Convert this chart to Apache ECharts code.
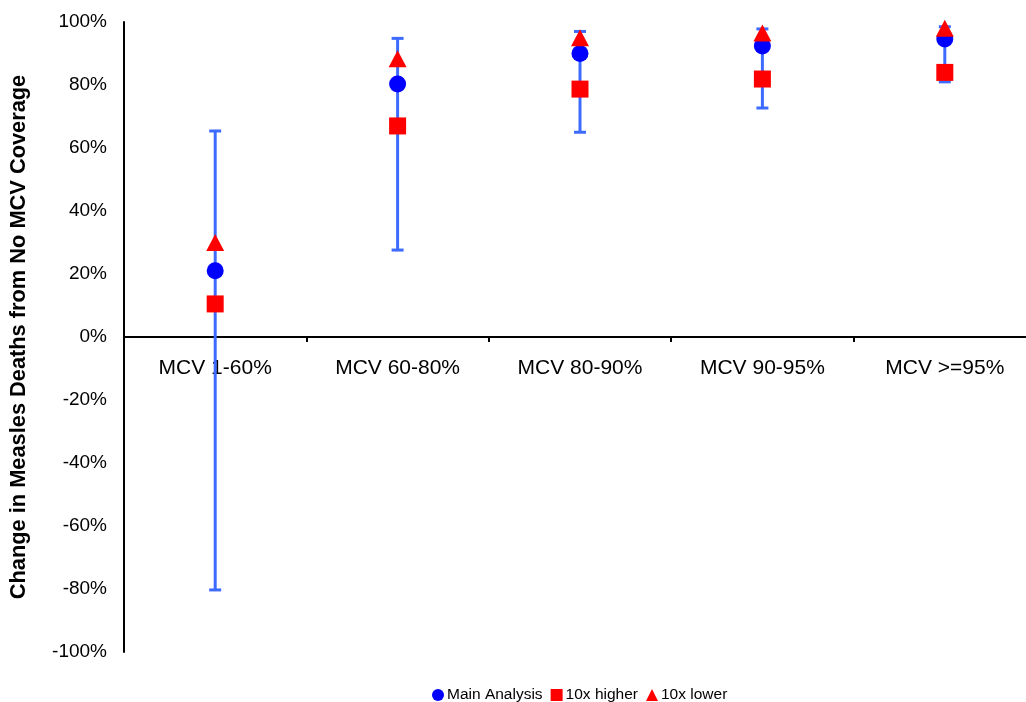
<!DOCTYPE html>
<html>
<head>
<meta charset="utf-8">
<script src="https://cdn.jsdelivr.net/npm/echarts@6/dist/echarts.min.js"></script>
<style>html,body{margin:0;padding:0;background:#fff;overflow:hidden;width:1026px;height:702px;}#c{width:1040px;height:702px;}</style>
</head>
<body>
<div id="c"></div>
<script>
var categories = ['MCV 1-60%', 'MCV 60-80%', 'MCV 80-90%', 'MCV 90-95%', 'MCV >=95%'];
var mainValues = [21, 80.3, 90, 92.4, 94.6];
var higherValues = [10.5, 67, 78.7, 81.9, 84];
var lowerValues = [30, 88.3, 95, 96.5, 98];
var errLow = [-80.3, 27.6, 65, 72.7, 81];
var errHigh = [65.4, 94.8, 97, 97.8, 98.5];
var yTicks = { min: -100, max: 100, interval: 20 };

var chart = echarts.init(document.getElementById('c'));
var errData = categories.map(function (c, i) { return [i, errLow[i], errHigh[i]]; });
var font = 'Liberation Sans, Arial, sans-serif';
var gridH = 630;

chart.setOption({
  animation: false,
  textStyle: { fontFamily: font },
  grid: { left: 123, top: 22, width: 913, height: gridH, containLabel: false },
  legend: {
    data: [
      { name: 'Main Analysis', icon: 'circle' },
      { name: '10x higher', icon: 'rect' },
      { name: '10x lower', icon: 'triangle' }
    ],
    top: 687, left: 432, padding: 0,
    itemWidth: 12, itemHeight: 12, itemGap: 8,
    textStyle: { fontSize: 15.5, color: '#000', fontFamily: font, padding: [0, 0, 0, -2] }
  },
  xAxis: {
    type: 'category',
    data: categories,
    boundaryGap: true,
    position: 'bottom',
    offset: -gridH / 2,
    axisLine: { onZero: false, lineStyle: { color: '#000', width: 2 } },
    axisTick: { show: true, length: 5, inside: false, alignWithLabel: false, lineStyle: { color: '#000', width: 2 } },
    axisLabel: { fontSize: 21, color: '#000', margin: 21, fontFamily: font },
    splitLine: { show: false }
  },
  yAxis: {
    type: 'value',
    min: yTicks.min, max: yTicks.max, interval: yTicks.interval,
    name: 'Change in Measles Deaths from No MCV Coverage',
    nameLocation: 'middle',
    nameGap: 94,
    nameTextStyle: { fontSize: 21.8, fontWeight: 'bold', color: '#000', fontFamily: font },
    axisLine: { show: true, lineStyle: { color: '#000', width: 2 } },
    axisTick: { show: false },
    axisLabel: { fontSize: 19, color: '#000', margin: 17, formatter: '{value}%', fontFamily: font },
    splitLine: { show: false }
  },
  series: [
    {
      type: 'custom',
      name: 'err',
      z: 1,
      data: errData,
      encode: { x: 0, y: [1, 2] },
      renderItem: function (params, api) {
        var x = api.value(0);
        var pLo = api.coord([x, api.value(1)]);
        var pHi = api.coord([x, api.value(2)]);
        var w = 6;
        var st = { stroke: '#3d6bff', lineWidth: 3 };
        return {
          type: 'group',
          children: [
            { type: 'line', shape: { x1: pLo[0], y1: pLo[1], x2: pHi[0], y2: pHi[1] }, style: st },
            { type: 'line', shape: { x1: pLo[0] - w, y1: pLo[1], x2: pLo[0] + w, y2: pLo[1] }, style: st },
            { type: 'line', shape: { x1: pHi[0] - w, y1: pHi[1], x2: pHi[0] + w, y2: pHi[1] }, style: st }
          ]
        };
      }
    },
    {
      type: 'scatter', name: 'Main Analysis', z: 3,
      symbol: 'circle', symbolSize: 17,
      itemStyle: { color: '#0000ff', opacity: 1 },
      data: mainValues
    },
    {
      type: 'scatter', name: '10x higher', z: 3,
      symbol: 'rect', symbolSize: 17,
      itemStyle: { color: '#ff0000', opacity: 1 },
      data: higherValues
    },
    {
      type: 'scatter', name: '10x lower', z: 4,
      symbol: 'triangle', symbolSize: [18, 17],
      itemStyle: { color: '#ff0000', opacity: 1 },
      data: lowerValues
    }
  ]
});
</script>
</body>
</html>
